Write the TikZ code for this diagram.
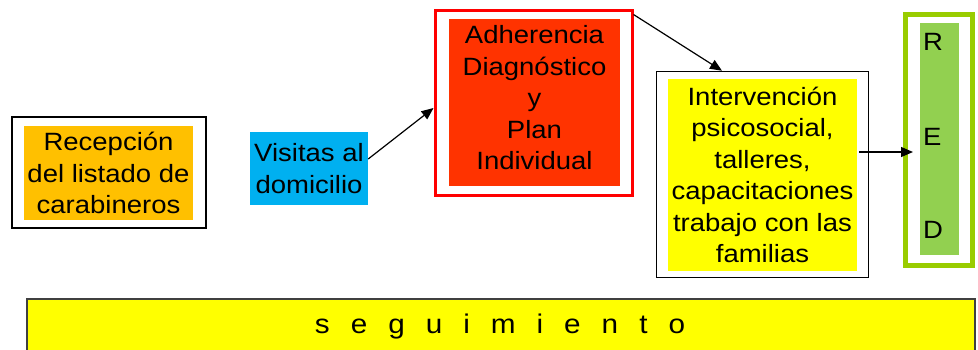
\documentclass[tikz,border=0pt]{standalone}
\usepackage{fontspec}
\setmainfont{Liberation Sans}[FakeStretch=1.1]
\usetikzlibrary{arrows.meta}
\definecolor{orangebox}{HTML}{FFC000}
\definecolor{bluebox}{HTML}{00B0F0}
\definecolor{redfill}{HTML}{FF3300}
\definecolor{redline}{HTML}{FF0000}
\definecolor{yellowbox}{HTML}{FFFF00}
\definecolor{greenfill}{HTML}{92D050}
\definecolor{greenline}{HTML}{99CC00}
\definecolor{grayline}{HTML}{404040}
\tikzset{
  frame/.style={draw=black, line width=1.5pt, fill=white, inner sep=0pt},
  fillbox/.style={inner sep=0pt, align=center, font=\fontsize{25}{31.5}\selectfont},
  conn/.style={draw=black, line width=1.2pt, -{Triangle[length=12pt,width=10pt]}},
  letter/.style={inner sep=0pt, anchor=west, font=\fontsize{25}{30}\selectfont}
}
\begin{document}
\begin{tikzpicture}[x=1pt,y=-1pt]
\clip (0,0) rectangle (978,349);
\fill[white] (0,0) rectangle (978,349);
% Recepcion
\node[frame, minimum width=194pt, minimum height=111pt] (recout) at (109,172.5) {};
\node[fillbox, fill=orangebox, minimum width=169pt, minimum height=94pt] (recin) at (108.5,173) {Recepción\\del listado de\\carabineros};
% Visitas
\node[fillbox, fill=bluebox, minimum width=118pt, minimum height=73pt] (vis) at (309,168.5) {Visitas al\\domicilio};
% Adherencia
\node[draw=redline, line width=3pt, fill=white, inner sep=0pt, minimum width=197pt, minimum height=185pt] (adhout) at (533.5,102.5) {};
\node[fill=redfill, inner sep=0pt, minimum width=171pt, minimum height=167pt] (adhin) at (534.5,102.5) {};
\node[fillbox] (adhtxt) at (534.5,98) {Adherencia\\Diagnóstico\\y\\Plan\\Individual};
% Intervencion
\node[frame, minimum width=212pt, minimum height=206pt] (intout) at (762.5,174.5) {};
\node[fillbox, fill=yellowbox, minimum width=189pt, minimum height=192pt] (intin) at (762.5,175) {Intervención\\psicosocial,\\talleres,\\capacitaciones\\trabajo con las\\familias};
% RED
\node[draw=greenline, line width=5pt, fill=white, inner sep=0pt, minimum width=67pt, minimum height=251pt] (redout) at (939,140) {};
\node[fill=greenfill, inner sep=0pt, minimum width=39pt, minimum height=232pt] (redin) at (939.5,139) {};
\node[letter] (lr) at (923,42) {R};
\node[letter] (le) at (923,137) {E};
\node[letter] (ld) at (923,230) {D};
% seguimiento
\node[draw=grayline, line width=1.5pt, fill=yellowbox, inner sep=0pt, minimum width=948pt, minimum height=70pt] (seg) at (501,334) {};
\node[inner sep=0pt, anchor=base, font=\fontsize{27}{30}\selectfont] (segtxt) at (500,333) {\spaceskip=21pt s e g u i m i e n t o};
% connectors
\coordinate (a3e) at (913,152);
\draw[conn] ([yshift=9.5pt]vis.east) -- ([yshift=-5.5pt]adhout.west);
\draw[conn] ([yshift=-6pt]adhout.north east) -- ([xshift=-40.5pt]intout.north);
\draw[conn] ([xshift=2pt,yshift=23pt]intin.east) -- (a3e);
\end{tikzpicture}
\end{document}
